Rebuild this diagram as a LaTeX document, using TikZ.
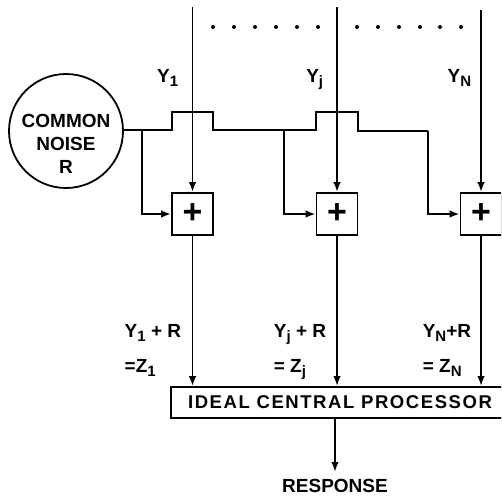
\documentclass[tikz,border=0pt]{standalone}
\usepackage{fontspec}
\setmainfont{Liberation Sans}
\usetikzlibrary{arrows.meta,positioning}
\newcommand{\lowidx}[1]{\raisebox{-0.45ex}{\fontsize{15}{15}\selectfont #1}}

\begin{document}
\begin{tikzpicture}[x=1pt,y=-1pt,line width=1.8pt,
  font=\fontsize{19}{23}\selectfont\bfseries,
  >={Latex[length=10pt,width=7.5pt]},
  adder/.style={draw,minimum width=41pt,minimum height=42pt,inner sep=0pt,font=\fontsize{34}{34}\selectfont\bfseries},
  lbl/.style={inner sep=0pt}]
\clip (0,0) rectangle (501,503);
\node[draw,circle,minimum size=114pt,inner sep=0pt] (noise) at (66,131) {};
\node[align=center,lbl] (noisetxt) at (66,144) {COMMON\\NOISE\\R};
\node[adder] (add1) at (192.5,214) {+};
\node[adder] (addj) at (337,214) {+};
\node[adder] (addN) at (481,214) {+};
\node[draw,minimum width=338pt,minimum height=31pt,inner sep=0pt,
  font=\fontsize{18.5}{23}\selectfont\bfseries\addfontfeature{LetterSpace=8.5}] (proc) at (340,402.5) {IDEAL CENTRAL PROCESSOR};
\coordinate (top1) at (192.5,7);
\coordinate (topj) at (337,7);
\coordinate (topN) at (481,10);
\coordinate (rtip) at (335,472);
\node[lbl,below=6pt of rtip] (resp) {RESPONSE};
% inputs
\node[lbl,anchor=base east] (y1) at (179,82) {Y\lowidx{1}};
\node[lbl,anchor=base east] (yj) at (324,82) {Y\lowidx{j}};
\node[lbl,anchor=base east] (yN) at (472,82) {Y\lowidx{N}};
\foreach \x in {213,234,255,276,297,318,357,378,399,420,440,461}
  \fill (\x,27) circle (2pt);
\draw[->] (top1) -- (add1);
\draw[->] (topj) -- (addj);
\draw[->] (topN) -- (addN);
% common noise line
\draw (noise.east |- 0,130) -- (172,130) -- (172,112) -- (213,112) -- (213,130)
  -- (316,130) -- (316,112) -- (358,112) -- (358,131) -- (428,131) coordinate (kN);
\draw[->] (kN) |- (addN);
\draw[->] (142,130) |- (add1);
\draw[->] (284,131) |- (addj);
% outputs
\draw[->] (add1) -- (add1 |- proc.north);
\draw[->] (addj) -- (addj |- proc.north);
\draw[->] (addN) -- (addN |- proc.north);
\draw[->] (proc.south -| rtip) -- (rtip);
\node[lbl,anchor=base east] (s1) at (182,337) {Y\lowidx{1} + R};
\node[lbl,anchor=base east] (sj) at (327,337) {Y\lowidx{j} + R};
\node[lbl,anchor=base east] (sN) at (472,337) {Y\lowidx{N}+R};
\node[lbl,anchor=base west] (z1) at ([yshift=-35pt]s1.base west) {=Z\lowidx{1}};
\node[lbl,anchor=base west] (zj) at ([yshift=-35pt]sj.base west) {= Z\lowidx{j}};
\node[lbl,anchor=base west] (zN) at ([yshift=-35pt]sN.base west) {= Z\lowidx{N}};
\end{tikzpicture}
\end{document}
